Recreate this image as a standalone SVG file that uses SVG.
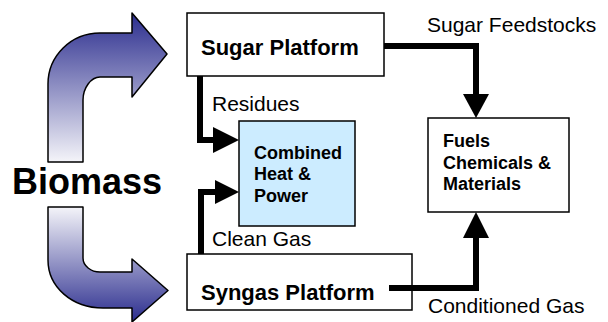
<svg xmlns="http://www.w3.org/2000/svg" width="608" height="322" viewBox="0 0 608 322">
<defs>
<linearGradient id="gUp" x1="0" y1="0" x2="0" y2="1">
<stop offset="0" stop-color="#2B2D8E"/>
<stop offset="1" stop-color="#F4F4F9"/>
</linearGradient>
<linearGradient id="gDown" x1="0" y1="0" x2="0" y2="1">
<stop offset="0" stop-color="#F4F4F9"/>
<stop offset="1" stop-color="#2B2D8E"/>
</linearGradient>
<style>
.box{fill:#FFFFFF;stroke:#000;stroke-width:1.5}
.chp{fill:#CCECFF;stroke:#000;stroke-width:1.5}
.big{font-family:"Liberation Sans",Arial,sans-serif;font-weight:bold;font-size:22px;fill:#000}
.small{font-family:"Liberation Sans",Arial,sans-serif;font-weight:bold;font-size:18px;fill:#000}
.lbl{font-family:"Liberation Sans",Arial,sans-serif;font-size:21px;fill:#000}
.bio{font-family:"Liberation Sans",Arial,sans-serif;font-weight:bold;font-size:36px;fill:#000}
.line{fill:none;stroke:#000;stroke-width:6;stroke-linejoin:miter;stroke-linecap:butt}
.head{fill:#000}
.curved{stroke:#000;stroke-width:1.5;stroke-linejoin:round}
</style>
</defs>
<rect width="608" height="322" fill="#FFFFFF"/>
<g id="biomass">
<path class="curved" fill="url(#gUp)" d="M48,162 L48,84 C48,56 71,33 100,33 L132,33 L132,13 L167,54 L132,97 L132,77 L100,77 C91,77 83,88 83,100 L83,162 Z"/>
<path class="curved" fill="url(#gDown)" d="M48,207 L48,260 C48,287 72,308 103,308 L132,308 L132,322 L168,290.5 L132,259 L132,272 L100,272 C91,272 83,266 83,258 L83,207 Z"/>
<text class="bio" x="12" y="194">Biomass</text>
</g>
<g id="sugar">
<rect class="box" x="187" y="13" width="197" height="63"/>
<text class="big" x="201" y="55">Sugar Platform</text>
</g>
<g id="syngas">
<rect class="box" x="187" y="254" width="225" height="56"/>
<text class="big" x="201" y="300">Syngas Platform</text>
</g>
<g id="chp">
<rect class="chp" x="239" y="121" width="116" height="105"/>
<text class="small" x="254" y="158.5">Combined</text>
<text class="small" x="254" y="180">Heat &amp;</text>
<text class="small" x="254" y="201.5">Power</text>
</g>
<g id="fuels">
<rect class="box" x="428" y="118" width="141" height="94"/>
<text class="small" x="443" y="147">Fuels</text>
<text class="small" x="443" y="168.5">Chemicals &amp;</text>
<text class="small" x="443" y="190">Materials</text>
</g>
<g id="connectors">
<path class="line" d="M384,46 H476 V95"/>
<polygon class="head" points="463,94 489,94 476,118"/>
<path class="line" d="M389,288 H476 V237"/>
<polygon class="head" points="463,238 489,238 476,212"/>
<path class="line" d="M200,76 V140 H214"/>
<polygon class="head" points="213,127 213,153 239,140"/>
<path class="line" d="M201,254 V192 H216"/>
<polygon class="head" points="215,180 215,204 239,192"/>
<text class="lbl" x="427" y="32">Sugar Feedstocks</text>
<text class="lbl" x="212" y="111">Residues</text>
<text class="lbl" x="212" y="246">Clean Gas</text>
<text class="lbl" x="428" y="313">Conditioned Gas</text>
</g>
</svg>
